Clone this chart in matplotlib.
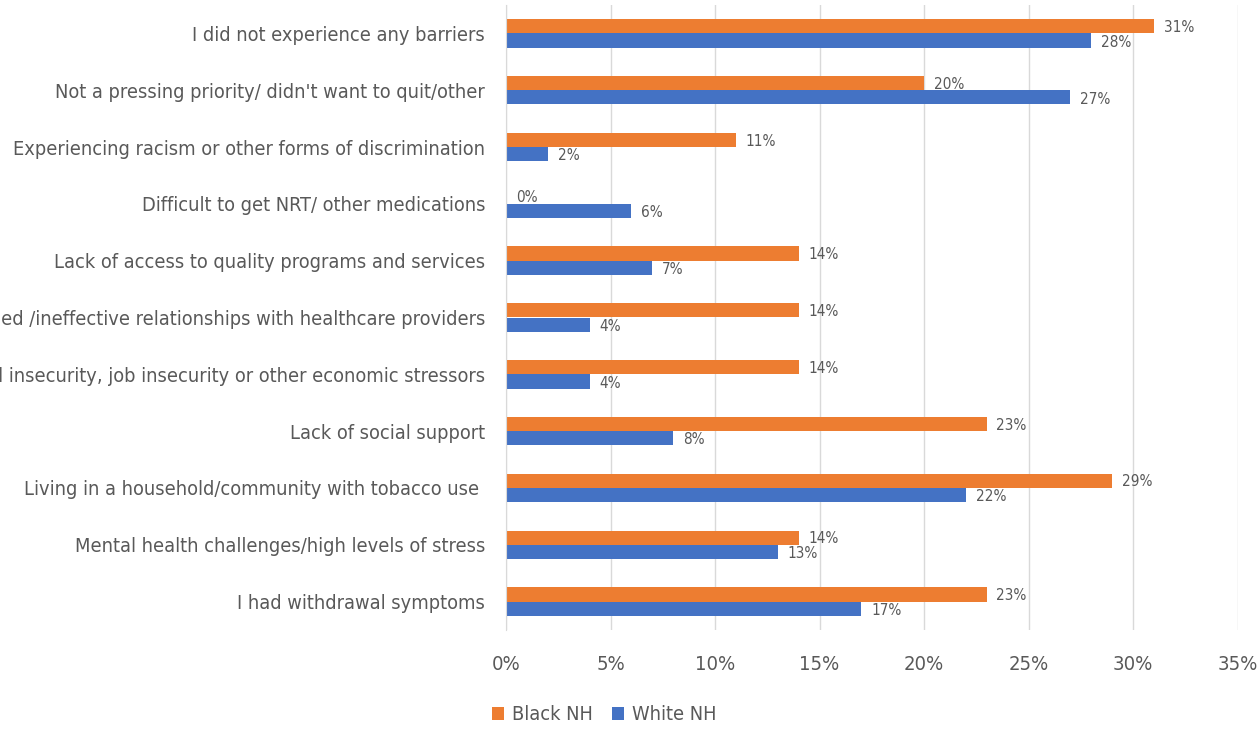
import numpy as np
import matplotlib.pyplot as plt

plt.rcParams['font.family'] = ['Liberation Sans Narrow', 'DejaVu Sans']
plt.rcParams['font.stretch'] = 'condensed'

categories = [
    "I did not experience any barriers",
    "Not a pressing priority/ didn't want to quit/other",
    "Experiencing racism or other forms of discrimination",
    "Difficult to get NRT/ other medications",
    "Lack of access to quality programs and services",
    "Strained /ineffective relationships with healthcare providers",
    "Housing/food insecurity, job insecurity or other economic stressors",
    "Lack of social support",
    "Living in a household/community with tobacco use ",
    "Mental health challenges/high levels of stress",
    "I had withdrawal symptoms",
]
black_nh = [31, 20, 11, 0, 14, 14, 14, 23, 29, 14, 23]
white_nh = [28, 27, 2, 6, 7, 4, 4, 8, 22, 13, 17]

orange = '#ED7D31'
blue = '#4472C4'
grey = '#595959'

fig = plt.figure(figsize=(12.58, 7.30), dpi=100)
ax = fig.add_axes([506 / 1258, 100 / 730, (1237.5 - 506) / 1258, 625 / 730])

y = np.arange(len(categories))
h = 0.25
b1 = ax.barh(y - h / 2, black_nh, height=h, color=orange, label='Black NH')
b2 = ax.barh(y + h / 2, white_nh, height=h, color=blue, label='White NH')

# value labels just past the end of each bar
for bars, vals, dy in [(b1, black_nh, 0.02), (b2, white_nh, 0.03)]:
    for bar, v in zip(bars, vals):
        ax.annotate(f'{v}%', (bar.get_width(), bar.get_y() + bar.get_height() / 2 + dy),
                    xytext=(7, 0), textcoords='offset points', va='center', ha='left',
                    fontsize=11, color=grey)

ax.set_ylim(len(categories) - 0.5, -0.5)
ax.set_xlim(0, 35)
ax.set_xticks(np.arange(0, 36, 5))
ax.set_xticklabels([f'{t}%' for t in range(0, 36, 5)])
ax.set_yticks(y)
ax.set_yticklabels(categories)
ax.tick_params(axis='y', length=0, pad=15, labelsize=14.3, labelcolor=grey)
ax.tick_params(axis='x', length=0, pad=18, labelsize=14.5, labelcolor=grey)

ax.grid(axis='x', color='#D9D9D9', linewidth=1)
ax.set_axisbelow(True)
for s in ['top', 'right', 'bottom']:
    ax.spines[s].set_visible(False)
ax.spines['left'].set_color('#D9D9D9')

fig.legend(handles=[b1, b2], loc='center left', bbox_to_anchor=(474 / 1258, 15 / 730),
           ncol=2, frameon=False, fontsize=14.3, labelcolor=grey,
           handlelength=0.6, handleheight=0.6, handletextpad=0.4, columnspacing=1.0)

fig.savefig('out.png', dpi=100, facecolor='white')
